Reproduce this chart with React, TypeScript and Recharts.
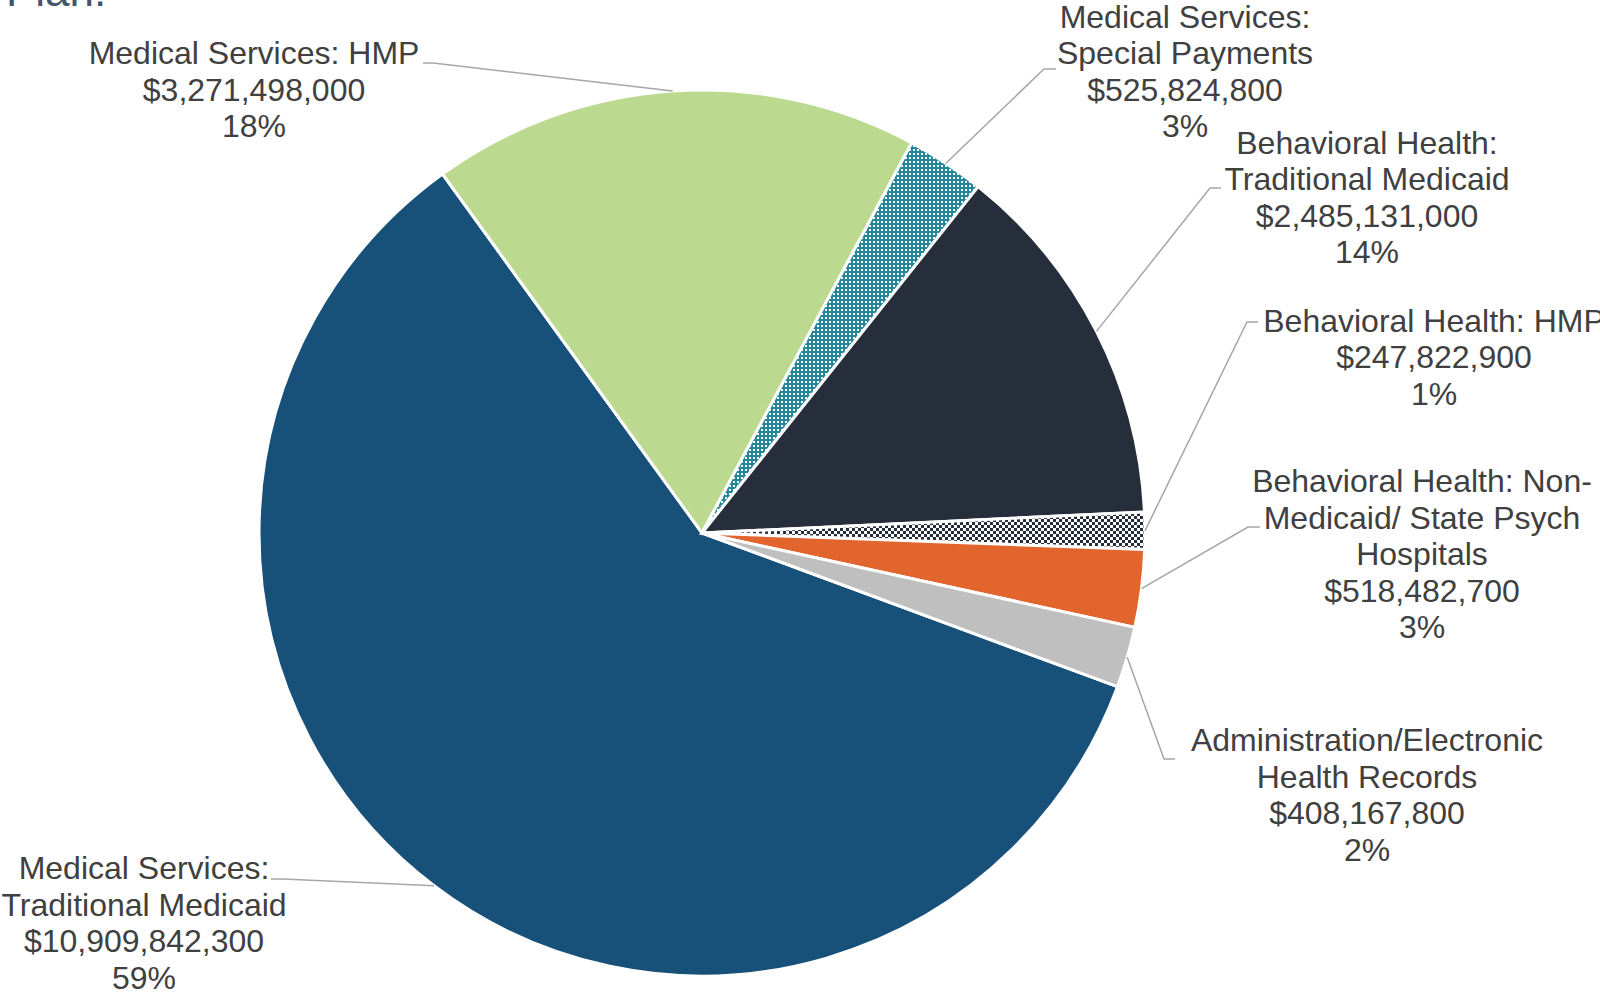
import { PieChart, Pie, Cell } from 'recharts';

// slices, clockwise starting at the lower right
const CATEGORIES = [
  'Medical Services:\nTraditional Medicaid',
  'Medical Services: HMP',
  'Medical Services:\nSpecial Payments',
  'Behavioral Health:\nTraditional Medicaid',
  'Behavioral Health: HMP',
  'Behavioral Health: Non-\nMedicaid/ State Psych\nHospitals',
  'Administration/Electronic\nHealth Records',
];
const AMOUNTS = [
  10909842300, 3271498000, 525824800, 2485131000, 247822900, 518482700, 408167800,
];
const FILLS = [
  '#175179',
  '#bbda90',
  'url(#dotsTeal)',
  '#262e3c',
  'url(#checkDark)',
  '#e2652d',
  '#bfbfbf',
];

// label placement (text centre x, first baseline y, leader end at label, elbow x)
const LABEL_LAYOUT = [
  { tx: 144, ty: 879, ax: 271, ay: 879, bx: 283 },
  { tx: 254, ty: 64, ax: 423, ay: 63, bx: 433 },
  { tx: 1185, ty: 27.5, ax: 1056, ay: 69, bx: 1044 },
  { tx: 1367, ty: 153.5, ax: 1221, ay: 188, bx: 1210 },
  { tx: 1434, ty: 331.5, ax: 1258, ay: 322, bx: 1247 },
  { tx: 1422, ty: 492, ax: 1260, ay: 527, bx: 1248 },
  { tx: 1367, ty: 751, ax: 1175, ay: 759, bx: 1164 },
];

const data = CATEGORIES.map((name, i) => ({ name, value: AMOUNTS[i] }));

const FONT = '"Liberation Sans", Arial, sans-serif';
const LINE_H = 36.5;
const RAD = Math.PI / 180;

const renderLabel = (props: any) => {
  const { cx, cy, midAngle, outerRadius, percent, index, value } = props;
  const lay = LABEL_LAYOUT[index];
  const ex = cx + outerRadius * Math.cos(-midAngle * RAD);
  const ey = cy + outerRadius * Math.sin(-midAngle * RAD);
  const lines = [
    ...CATEGORIES[index].split('\n'),
    '$' + Number(value).toLocaleString('en-US'),
    Math.round(percent * 100) + '%',
  ];
  return (
    <g key={`lbl-${index}`}>
      <polyline
        points={`${ex},${ey} ${lay.bx},${lay.ay} ${lay.ax},${lay.ay}`}
        fill="none"
        stroke="#a6a6a6"
        strokeWidth={1.5}
      />
      <text
        x={lay.tx}
        y={lay.ty}
        textAnchor="middle"
        fontFamily={FONT}
        fontSize={32}
        fill="#404040"
      >
        {lines.map((l, i) => (
          <tspan key={i} x={lay.tx} y={lay.ty + i * LINE_H}>
            {l}
          </tspan>
        ))}
      </text>
    </g>
  );
};

export default function App() {
  return (
    <div
      style={{
        position: 'absolute',
        left: 0,
        top: 0,
        width: 1600,
        height: 995,
        overflow: 'hidden',
        background: '#fff',
      }}
    >
      <svg
        width={200}
        height={20}
        style={{ position: 'absolute', left: 0, top: 0 }}
      >
        <text x={6} y={6} fontFamily={FONT} fontSize={44} fill="#44546a">
          Plan:
        </text>
      </svg>
      <PieChart width={1600} height={995} margin={{ top: 0, right: 0, bottom: 0, left: 0 }}>
        <defs>
          <pattern id="dotsTeal" width={4} height={4} patternUnits="userSpaceOnUse">
            <rect width={4} height={4} fill="#23869a" />
            <rect x={1} y={1} width={2} height={2} fill="#ffffff" />
          </pattern>
          <pattern id="checkDark" width={6} height={6} patternUnits="userSpaceOnUse">
            <rect width={6} height={6} fill="#ffffff" />
            <rect x={0} y={0} width={3} height={3} fill="#262e3c" />
            <rect x={3} y={3} width={3} height={3} fill="#262e3c" />
          </pattern>
        </defs>
        <Pie
          data={data}
          dataKey="value"
          nameKey="name"
          cx={702}
          cy={533}
          outerRadius={443}
          startAngle={-20.3}
          endAngle={-380.3}
          stroke="#ffffff"
          strokeWidth={3}
          label={renderLabel}
          labelLine={false}
          isAnimationActive={false}
        >
          {data.map((d, i) => (
            <Cell key={d.name} fill={FILLS[i]} />
          ))}
        </Pie>
      </PieChart>
    </div>
  );
}
